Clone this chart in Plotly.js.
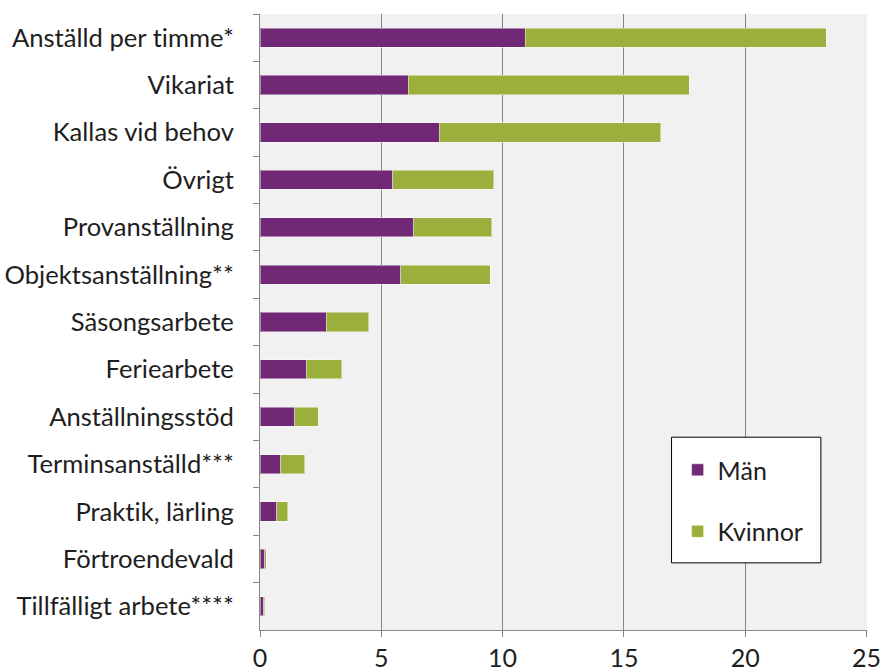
<!DOCTYPE html>
<html>
<head>
<meta charset="utf-8">
<script src="https://cdn.plot.ly/plotly-3.0.1.min.js"></script>
<style>
  html, body { margin: 0; padding: 0; background: #ffffff; }
  #chart { width: 883px; height: 672px; }
  #chart text { font-variant-ligatures: none; font-feature-settings: "liga" 0; }
</style>
</head>
<body>
<div id="chart"></div>
<script>
var categories = [
  "Anställd per timme*",
  "Vikariat",
  "Kallas vid behov",
  "Övrigt",
  "Provanställning",
  "Objektsanställning**",
  "Säsongsarbete",
  "Feriearbete",
  "Anställningsstöd",
  "Terminsanställd***",
  "Praktik, lärling",
  "Förtroendevald",
  "Tillfälligt arbete****"
];
var man = [10.93, 6.12, 7.39, 5.48, 6.34, 5.81, 2.74, 1.91, 1.43, 0.85, 0.68, 0.20, 0.16];
var kvinnor = [12.40, 11.57, 9.13, 4.16, 3.21, 3.68, 1.75, 1.46, 0.98, 0.99, 0.47, 0.06, 0.04];
var seriesNames = ["Män", "Kvinnor"];
var xTicks = [0, 5, 10, 15, 20, 25];

var FONT = "Lato, 'Liberation Sans', sans-serif";
var AXIS_GRAY = "#868686";

var traces = [
  {
    type: "bar", orientation: "h", name: seriesNames[0],
    y: categories, x: man, legendgroup: "a",
    marker: { color: "#712877", line: { color: "rgba(255,255,255,0.45)", width: 1 } },
    hoverinfo: "x+y+name"
  },
  {
    type: "bar", orientation: "h", name: seriesNames[1],
    y: categories, x: kvinnor, legendgroup: "b",
    marker: { color: "#9BB03C", line: { color: "rgba(255,255,255,0.45)", width: 1 } },
    hoverinfo: "x+y+name"
  }
];

var layout = {
  width: 883,
  height: 672,
  margin: { l: 260, r: 16, t: 14, b: 42, pad: 0 },
  paper_bgcolor: "#ffffff",
  plot_bgcolor: "#f1f1f1",
  barmode: "stack",
  bargap: 0.595,
  font: { family: FONT, size: 25, color: "#1e1e1e" },
  showlegend: true,
  legend: {
    x: 0.688, xanchor: "left",
    y: 0.297, yanchor: "top",
    bgcolor: "rgba(0,0,0,0)",
    borderwidth: 0,
    traceorder: "grouped",
    tracegroupgap: 26,
    font: { family: FONT, size: 25, color: "#1e1e1e" }
  },
  xaxis: {
    range: [0, 25.02],
    tickvals: xTicks,
    ticktext: xTicks.map(String),
    showgrid: true,
    gridcolor: AXIS_GRAY,
    gridwidth: 1,
    zeroline: false,
    showline: true,
    linecolor: AXIS_GRAY,
    linewidth: 1,
    ticks: "outside",
    ticklen: 6,
    tickcolor: AXIS_GRAY,
    ticklabelstandoff: 0,
    tickfont: { family: FONT, size: 25, color: "#1e1e1e" },
    fixedrange: true
  },
  yaxis: {
    type: "category",
    categoryorder: "array",
    categoryarray: categories,
    autorange: "reversed",
    showgrid: false,
    zeroline: false,
    showline: true,
    linecolor: AXIS_GRAY,
    linewidth: 1,
    ticks: "outside",
    tickson: "boundaries",
    ticklen: 6,
    tickcolor: AXIS_GRAY,
    ticklabelstandoff: 20,
    tickfont: { family: FONT, size: 25.6, color: "#1e1e1e" },
    fixedrange: true
  },
  shapes: [
    {
      type: "rect", xref: "paper", yref: "paper",
      x0: 0.678, x1: 0.924, y0: 0.109, y1: 0.313,
      line: { color: "#000000", width: 1 },
      fillcolor: "#ffffff",
      layer: "above"
    }
  ]
};

Plotly.newPlot("chart", traces, layout, { displayModeBar: false, staticPlot: true });
</script>
</body>
</html>
